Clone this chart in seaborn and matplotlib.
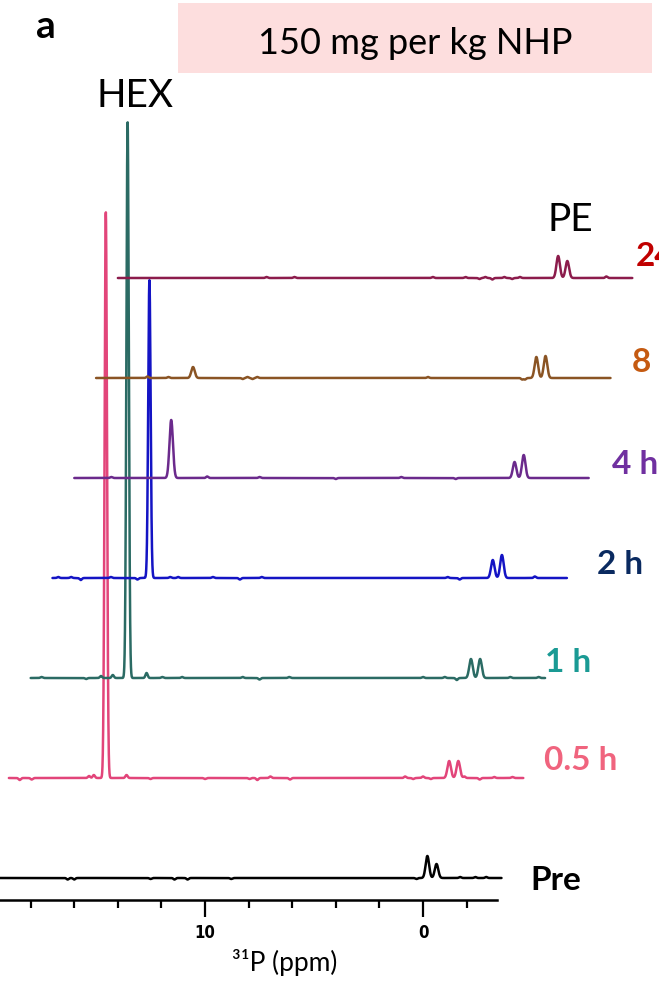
import numpy as np
import pandas as pd
import matplotlib
matplotlib.use("Agg")
import matplotlib.pyplot as plt
import seaborn as sns
from matplotlib.patches import Rectangle

# ---------------- data ----------------
labels = ["Pre", "0.5 h", "1 h", "2 h", "4 h", "8 h", "24 h"]
label_texts = ["Pre", "0.5 h", "1 h", "2 h", "4 h", "8", "24"]
line_colors = ["#000000", "#E2457A", "#2B6B64", "#1414C4", "#6B2A8C", "#8A5424", "#8C1C4C"]
label_colors = ["#000000", "#F0647E", "#1A9A94", "#0A2A60", "#7030A0", "#C55A11", "#C00000"]

hex_ppm = 15.55
hex_height = [0, 566, 556, 298, 58, 11, 0]
pe_ppm = [-0.2, -0.62]
pe1_height = [22, 17, 19, 18, 16, 21, 22]
pe2_height = [14, 17, 19, 23, 23, 22, 17]

# small baseline features (ppm, height) per spectrum
bumps = [
    [(16.3, -1.5), (16.0, -1.5), (12.5, -1), (11.4, -1.5), (10.8, -1.5), (8.8, -1), (0.3, -1), (-1.7, 1), (-2.4, 1), (-2.9, 1)],
    [(19.5, -2), (18.95, -1.5), (16.32, 2), (16.1, 3), (14.6, 3), (13.5, -1), (11.0, -1), (8.96, -1), (8.6, -2), (8.0, 1.5),
     (7.1, -1.5), (1.82, 1.5), (1.45, -1), (1.0, 1.5), (0.64, -1), (-0.9, 1.5), (-1.6, -1.5), (-2.27, 1), (-3.1, 1)],
    [(19.5, 1), (17.45, -1), (16.77, 2), (16.23, 3), (14.68, 5), (13.96, 1), (13.05, 1), (10.27, 1), (9.5, -1.5), (8.14, 1),
     (2.0, 1), (1.0, 1), (0.45, -2), (-2.0, 1), (-3.3, 1)],
    [(19.73, 1), (19.14, 1), (18.7, -2), (17.32, 1), (16.1, -1.5), (14.6, 1), (14.23, 1), (12.64, 1), (11.4, -1.5), (10.4, 1),
     (1.87, 1), (1.32, -1.5), (-2.13, 1.5)],
    [(18.3, 1), (13.9, 1.5), (11.5, 1), (8.0, -1), (5.0, 1), (2.5, -1)],
    [(17.64, 1.5), (16.68, 1), (13.27, -1), (13.05, 1), (12.82, -1), (12.6, 1), (4.77, 1), (0.45, -1.5), (0.32, -1.5)],
    [(13.18, 1), (11.9, 1), (5.55, 1), (4.05, 1), (3.41, -1), (3.14, 1), (2.82, -1.5), (2.27, 1), (1.91, -1), (1.55, 1), (-2.41, 1.5)],
]

ppm_start, ppm_end = 20.0, -3.6
x_shift = 1.0          # ppm shift per stacked spectrum
y_step = 100           # vertical offset per spectrum
pre_base = 114

# ---------------- build spectra ----------------
ppm = np.arange(ppm_end, ppm_start, 0.004)[::-1]

def gauss(c, h, s):
    return h * np.exp(-0.5 * ((ppm - c) / s) ** 2)

frames = []
for k, lab in enumerate(labels):
    y = np.zeros_like(ppm)
    if hex_height[k] > 0:
        y += gauss(hex_ppm, hex_height[k], 0.055 if k < 4 else 0.08)
    y += gauss(pe_ppm[0], pe1_height[k], 0.08)
    y += gauss(pe_ppm[1], pe2_height[k], 0.08)
    for c, h in bumps[k]:
        y += gauss(c, h, 0.05)
    frames.append(pd.DataFrame({"x": ppm - k * x_shift,
                                "y": pre_base + k * y_step + y,
                                "spectrum": lab}))
df = pd.concat(frames, ignore_index=True)

# ---------------- figure ----------------
sns.set_style("white")
plt.rcParams["font.family"] = ["Lato", "DejaVu Sans"]
plt.rcParams["text.color"] = "black"
plt.rcParams["axes.labelcolor"] = "black"

W, H = 659, 992
fig = plt.figure(figsize=(W / 100, H / 100), dpi=100)

px_per_ppm = 21.8
x_left = 10 + 205 / px_per_ppm  # ppm at pixel 0

ax = fig.add_axes([0, 0, 1, 1])
for k, lab in enumerate(labels):
    sns.lineplot(data=df[df["spectrum"] == lab], x="x", y="y", color=line_colors[k],
                 lw=1.8, estimator=None, sort=False, ax=ax, legend=False)
ax.set_xlim(x_left, x_left - W / px_per_ppm)
ax.set_ylim(0, H)
ax.axis("off")

# x axis
axis_right_px = 497
ax2 = fig.add_axes([0, (H - 900) / H, axis_right_px / W, 1e-4])
ax2.set_xlim(x_left, x_left - axis_right_px / px_per_ppm)
ax2.set_yticks([])
for s in ["left", "right", "top"]:
    ax2.spines[s].set_visible(False)
ax2.spines["bottom"].set_linewidth(1.8)
ax2.spines["bottom"].set_color("black")
ax2.patch.set_alpha(0)
ax2.set_xticks([10, 0])
ax2.set_xticklabels(["10", "0"], fontsize=12, fontweight="bold", fontstretch="condensed",
                    family=["Liberation Sans Narrow", "DejaVu Sans"])
ax2.set_xticks(np.arange(-2, 19, 2), minor=True)
ax2.tick_params(axis="x", which="both", bottom=True, direction="out", colors="black")
ax2.tick_params(axis="x", which="major", length=12, width=1.6, pad=5)
ax2.tick_params(axis="x", which="minor", length=6, width=1.6)

# x-axis title
fig.text(285 / W, 1 - 963 / H, "³¹P (ppm)", fontsize=19, ha="center", va="center", color="black")

# spectrum labels
label_pos = [(530, 880), (544, 760), (545, 663), (597, 565), (612, 465), (632, 363), (636, 257)]
for (px, py), t, c in zip(label_pos, label_texts, label_colors):
    fig.text(px / W, 1 - py / H, t, color=c, fontsize=24, fontweight="bold",
             ha="left", va="center")

# title box
fig.add_artist(Rectangle((178 / W, 1 - 73 / H), (652 - 178) / W, 70 / H,
                         transform=fig.transFigure, facecolor="#FDDEDE", edgecolor="none", zorder=0))
fig.text(415 / W, 1 - 44 / H, "150 mg per kg NHP", fontsize=26, ha="center", va="center", color="black")
fig.text(46 / W, 1 - 27 / H, "a", fontsize=28, fontweight="bold", ha="center", va="center", color="black")
fig.text(135 / W, 1 - 96 / H, "HEX", fontsize=28, ha="center", va="center", color="black")
fig.text(570 / W, 1 - 220 / H, "PE", fontsize=28, ha="center", va="center", color="black")

fig.savefig("out.png", dpi=100)
